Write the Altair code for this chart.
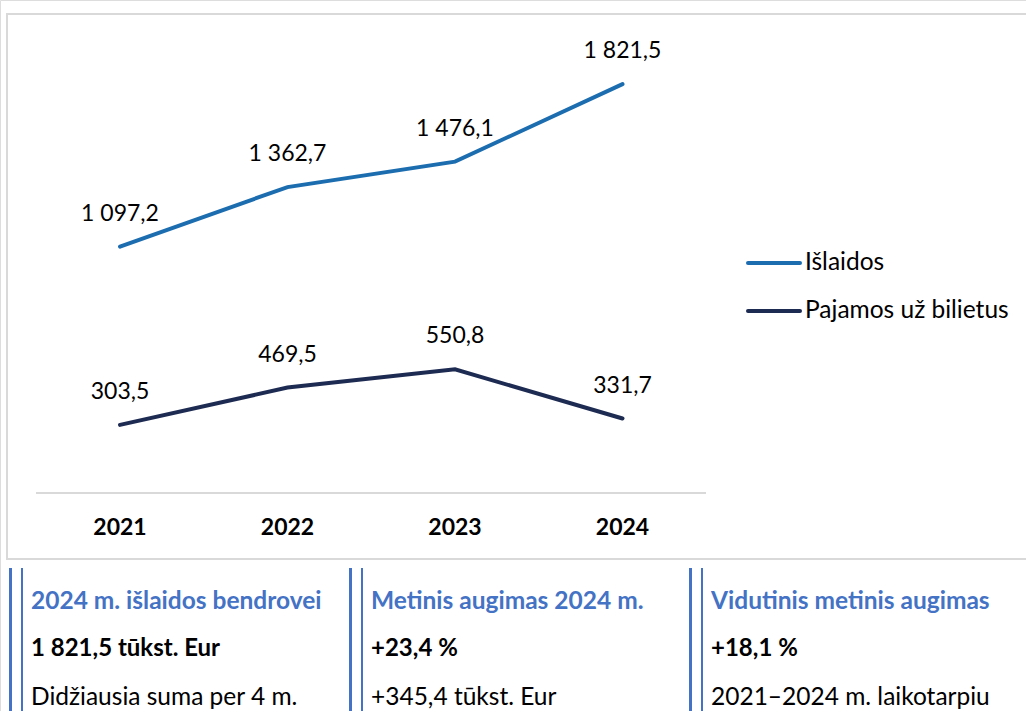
import altair as alt
import pandas as pd

# ---- data ----
years = ["2021", "2022", "2023", "2024"]
islaidos = [1097.2, 1362.7, 1476.1, 1821.5]
pajamos = [303.5, 469.5, 550.8, 331.7]
series_names = ["Išlaidos", "Pajamos už bilietus"]
series_colors = ["#1c6db0", "#1d2a52"]

box_titles = ["2024 m. išlaidos bendrovei", "Metinis augimas 2024 m.", "Vidutinis metinis augimas"]
box_values = ["1 821,5 tūkst. Eur", "+23,4 %", "+18,1 %"]
box_notes = ["Didžiausia suma per 4 m.", "+345,4 tūkst. Eur", "2021–2024 m. laikotarpiu"]


def lt(v):
    s = f"{v:,.1f}"
    return s.replace(",", " ").replace(".", ",")


rows = []
for name, vals in zip(series_names, [islaidos, pajamos]):
    for y, v in zip(years, vals):
        rows.append({"year": y, "value": v, "series": name, "label": lt(v)})
df = pd.DataFrame(rows)

FONT = "Lato"
W, H = 1026, 711

xs = alt.X("year:O", scale=alt.Scale(type="point", domain=years, range=[120, 622.5], padding=0), axis=None)
ys = alt.Y("value:Q", scale=alt.Scale(domain=[0, 2000], range=[493, 44]), axis=None)
color = alt.Color("series:N", scale=alt.Scale(domain=series_names, range=series_colors), legend=None)

one = pd.DataFrame({"a": [0]})

border = alt.Chart(one).mark_rect(fill="white", stroke="#d9d9d9", strokeWidth=2).encode(
    x=alt.value(7), x2=alt.value(1030), y=alt.value(14), y2=alt.value(559)
)

baseline = alt.Chart(one).mark_rule(color="#d9d9d9", strokeWidth=2).encode(
    x=alt.value(36), x2=alt.value(706), y=alt.value(493)
)

lines = alt.Chart(df).mark_line(strokeWidth=4, strokeCap="round").encode(
    x=xs, y=ys, color=color, detail="series:N"
)

labels = alt.Chart(df).mark_text(font=FONT, fontSize=23, color="#000000", dy=-33).encode(
    x=xs, y=ys, text="label:N"
)

xlab = alt.Chart(pd.DataFrame({"year": years})).mark_text(
    font=FONT, fontSize=23, fontWeight="bold", color="#000000"
).encode(x=xs, y=alt.value(528), text="year:N")

layers = [border, baseline, lines, labels, xlab]

# manual legend
leg_y = [263, 311]
for name, col, yy in zip(series_names, series_colors, leg_y):
    d = pd.DataFrame({"s": [name]})
    layers.append(
        alt.Chart(d).mark_rule(color=col, strokeWidth=4, strokeCap="round").encode(
            x=alt.value(748), x2=alt.value(800), y=alt.value(yy)
        )
    )
    layers.append(
        alt.Chart(d).mark_text(font=FONT, fontSize=24.5, align="left", baseline="middle", color="#000000").encode(
            x=alt.value(805), y=alt.value(yy), text="s:N"
        )
    )

# info boxes
box_x = [0, 340, 680]
for bx, t, v, n in zip(box_x, box_titles, box_values, box_notes):
    d = pd.DataFrame({"t": [t], "v": [v], "n": [n]})
    layers.append(
        alt.Chart(d).mark_rule(color="#4472c4", strokeWidth=3).encode(
            x=alt.value(bx + 10.5), y=alt.value(568), y2=alt.value(711)
        )
    )
    layers.append(
        alt.Chart(d).mark_rule(color="#4472c4", strokeWidth=2).encode(
            x=alt.value(bx + 22), y=alt.value(568), y2=alt.value(711)
        )
    )
    layers.append(
        alt.Chart(d).mark_text(font=FONT, fontSize=24.5, fontWeight="bold", align="left", baseline="middle",
                               color="#4472c4").encode(x=alt.value(bx + 31), y=alt.value(602), text="t:N")
    )
    layers.append(
        alt.Chart(d).mark_text(font=FONT, fontSize=24, fontWeight="bold", align="left", baseline="middle",
                               color="#000000").encode(x=alt.value(bx + 31), y=alt.value(649), text="v:N")
    )
    layers.append(
        alt.Chart(d).mark_text(font=FONT, fontSize=24.5, align="left", baseline="middle",
                               color="#000000").encode(x=alt.value(bx + 31), y=alt.value(698), text="n:N")
    )

chart = alt.layer(*layers).properties(
    width=W, height=H, autosize=alt.AutoSizeParams(type="none"), padding=0
).configure_view(stroke=None).configure(background="white")

chart.save("out.html", embed_options={"renderer": "svg", "actions": False})
